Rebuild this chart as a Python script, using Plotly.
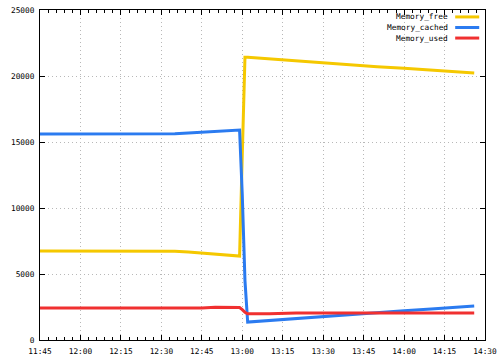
import plotly.graph_objects as go

times = ["11:45", "12:00", "12:15", "12:30", "12:35", "12:40", "12:45", "12:50", "12:55",
         "12:59", "13:00", "13:01", "13:02", "13:10", "13:20", "13:30", "13:40", "13:50",
         "14:00", "14:10", "14:20", "14:26"]
memory_free = [6740, 6740, 6740, 6740, 6730, 6660, 6590, 6510, 6440,
               6360, 14000, 21420, 21420, 21300, 21120, 20980, 20850, 20710,
               20580, 20430, 20300, 20220]
memory_cached = [15600, 15600, 15600, 15600, 15620, 15680, 15730, 15790, 15850,
                 15900, 11000, 4500, 1360, 1480, 1650, 1800, 1960, 2080,
                 2220, 2350, 2480, 2570]
memory_used = [2420, 2420, 2420, 2420, 2420, 2420, 2420, 2480, 2470,
               2460, 2300, 2100, 1990, 1990, 2050, 2050, 2050, 2050,
               2050, 2050, 2050, 2050]

series = [("Memory_free", memory_free, "#F5C800"),
          ("Memory_cached", memory_cached, "#2B7BF0"),
          ("Memory_used", memory_used, "#F03030")]

x = ["2024-01-01 " + t for t in times]
font = dict(family="DejaVu Sans Mono", size=7.8, color="black")

fig = go.Figure()
for name, vals, col in series:
    fig.add_trace(go.Scatter(x=x, y=vals, name=name, mode="lines",
                             line=dict(color=col, width=3), showlegend=False))

# legend drawn as text + line sample (text left of sample, like gnuplot)
for i, (name, vals, col) in enumerate(series):
    yp = 0.979 - i * 0.032
    fig.add_annotation(x=0.921, y=yp, xref="paper", yref="paper", text=name,
                       showarrow=False, xanchor="right", yanchor="middle", font=font)
    fig.add_shape(type="line", xref="paper", yref="paper", x0=0.933, x1=0.987,
                  y0=yp, y1=yp, line=dict(color=col, width=3))

axis_common = dict(showline=True, linecolor="black", linewidth=1, mirror="ticks",
                   ticks="inside", ticklen=5, tickcolor="black", tickwidth=1,
                   showgrid=True, gridcolor="#b8b8b8", griddash="1px,3px", gridwidth=1,
                   zeroline=False, tickfont=font, automargin=False)

fig.update_xaxes(range=["2024-01-01 11:45", "2024-01-01 14:30"], tickformat="%H:%M",
                 dtick=15 * 60 * 1000, tick0="2024-01-01 11:45", ticklabelstandoff=4,
                 minor=dict(ticks="inside", ticklen=3, dtick=3 * 60 * 1000,
                            tick0="2024-01-01 11:45", tickcolor="black", showgrid=False),
                 **axis_common)
fig.update_yaxes(range=[0, 25000], dtick=5000, tickformat="d", ticklabelstandoff=3,
                 **axis_common)

fig.update_layout(width=500, height=360, margin=dict(l=40, r=15, t=10, b=20),
                  plot_bgcolor="white", paper_bgcolor="white", font=font)

fig.write_html("out.html")
